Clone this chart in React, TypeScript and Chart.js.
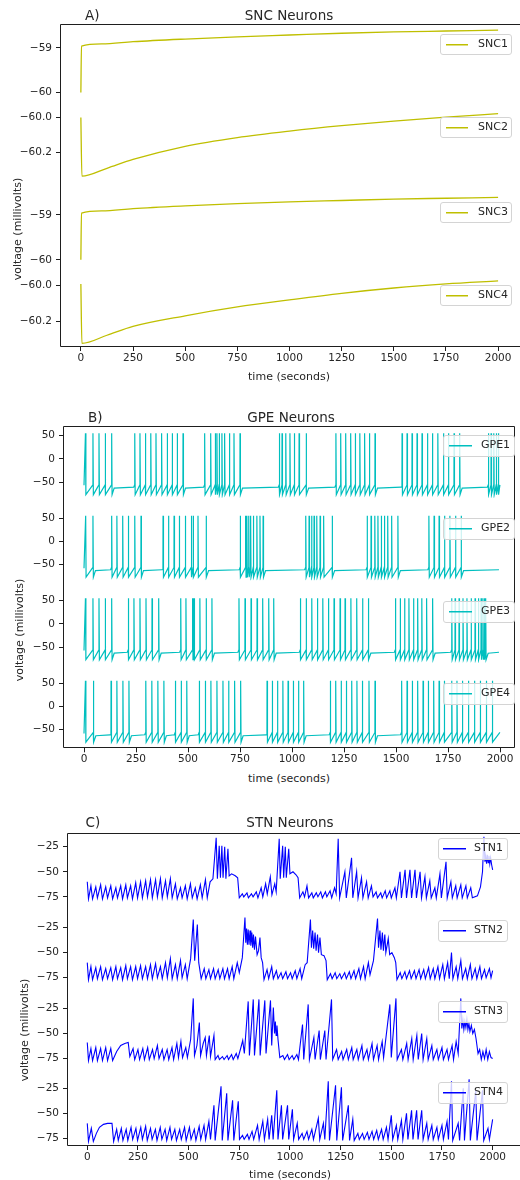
import React, { useEffect, useRef } from 'react';
import { Chart, registerables } from 'chart.js';

Chart.register(...registerables);

const FONT = '"DejaVu Sans", "Liberation Sans", Arial, sans-serif';
const TEXT = '#262626';
const FRAME = '#1e1e1e';

// ---------------- shared x axis ----------------
const X_TICKS = [0, 250, 500, 750, 1000, 1250, 1500, 1750, 2000];

// ---------------- Panel A : SNC ----------------
const SNC1_T = [0, 3, 100, 250, 500, 750, 1000, 1250, 1500, 1750, 2000];
const SNC1_V = [-60.0, -58.96, -58.91, -58.86, -58.8, -58.75, -58.71, -58.67, -58.64, -58.62, -58.6];
const SNC2_T = [0, 5, 125, 250, 500, 750, 1000, 1250, 1500, 1750, 2000];
const SNC2_V = [-60.0, -60.335, -60.29, -60.24, -60.165, -60.115, -60.078, -60.047, -60.021, -59.998, -59.979];
const SNC3_T = [0, 3, 100, 250, 500, 750, 1000, 1250, 1500, 1750, 2000];
const SNC3_V = [-60.0, -58.96, -58.91, -58.86, -58.8, -58.75, -58.71, -58.68, -58.65, -58.63, -58.61];
const SNC4_T = [0, 5, 125, 250, 500, 750, 1000, 1250, 1500, 1750, 2000];
const SNC4_V = [-59.99, -60.326, -60.28, -60.23, -60.17, -60.12, -60.08, -60.043, -60.013, -59.99, -59.973];
const SNC_TICKS_INT = [-60, -59];
const SNC_TICKS_DEC = [-60.2, -60.0];

// ---------------- Panel B : GPE (spike times) ----------------
const GPE1_SPIKES = [7, 43, 72, 102, 133, 244, 269, 295, 321, 346, 373, 400, 424, 448, 476, 580, 609, 631, 639, 650, 663, 676, 699, 721, 750, 939, 952, 970, 990, 1011, 1034, 1068, 1211, 1234, 1258, 1282, 1304, 1326, 1349, 1372, 1399, 1529, 1553, 1577, 1601, 1625, 1651, 1675, 1701, 1728, 1752, 1779, 1806, 1944, 1957, 1970, 1982, 1992];
const GPE2_SPIKES = [8, 43, 133, 158, 186, 213, 244, 274, 380, 406, 433, 458, 487, 516, 525, 548, 587, 751, 777, 783, 792, 801, 814, 831, 846, 861, 1066, 1082, 1094, 1106, 1119, 1135, 1152, 1193, 1361, 1380, 1398, 1413, 1429, 1444, 1460, 1479, 1509, 1658, 1683, 1707, 1733, 1759, 1786, 1813];
const GPE3_SPIKES = [7, 43, 72, 102, 133, 213, 240, 269, 298, 327, 359, 465, 490, 522, 526, 530, 557, 587, 615, 745, 774, 803, 832, 859, 888, 912, 1040, 1068, 1095, 1122, 1148, 1175, 1202, 1231, 1255, 1283, 1311, 1339, 1367, 1497, 1520, 1541, 1562, 1584, 1604, 1624, 1647, 1676, 1768, 1784, 1803, 1822, 1841, 1861, 1880, 1896, 1909, 1918, 1925, 1931];
const GPE4_SPIKES = [7, 45, 130, 158, 187, 216, 297, 326, 355, 384, 439, 467, 494, 554, 583, 610, 639, 668, 695, 724, 753, 880, 905, 930, 956, 981, 1006, 1031, 1056, 1184, 1210, 1236, 1261, 1287, 1312, 1338, 1370, 1399, 1527, 1553, 1578, 1604, 1630, 1655, 1681, 1707, 1732, 1768, 1793, 1819, 1848, 1877, 1905, 1934, 1963];
const GPE_START = [-57, -58, -57, -58];
const GPE_PEAK = 55;
const GPE_TROUGH = -77;
const GPE_THRESHOLD = -56;
const GPE_REST = -62;
const GPE_TICKS = [-50, 0, 50];

// ---------------- Panel C : STN (t, mV) ----------------
const STN1 = [[0,-60],[6,-77],[18,-64],[26,-77],[42,-65],[50,-76],[66,-63],[75,-77],[91,-65],[100,-76],[116,-64],[125,-77],[141,-66],[149,-76],[165,-64],[174,-77],[190,-63],[198,-76],[214,-64],[223,-77],[239,-61],[248,-76],[263,-60],[272,-76],[288,-59],[297,-75],[312,-58],[321,-76],[337,-58],[346,-75],[361,-57],[370,-76],[386,-59],[395,-75],[410,-57],[419,-76],[435,-62],[444,-77],[460,-66],[468,-76],[484,-64],[493,-77],[509,-62],[518,-76],[533,-66],[542,-77],[558,-63],[567,-76],[583,-58],[592,-76],[606,-60],[620,-57],[636,-16],[642,-57],[651,-24],[657,-56],[664,-24],[670,-56],[678,-25],[684,-57],[694,-27],[700,-54],[712,-52],[730,-54],[742,-56],[750,-76],[765,-72],[772,-75],[788,-71],[795,-76],[810,-72],[818,-75],[834,-70],[842,-76],[858,-66],[866,-75],[880,-62],[888,-72],[903,-55],[911,-73],[925,-62],[932,-70],[947,-17],[952,-57],[964,-24],[969,-56],[977,-25],[982,-56],[994,-27],[1000,-52],[1015,-50],[1030,-53],[1040,-56],[1048,-76],[1064,-70],[1072,-75],[1084,-64],[1092,-76],[1108,-71],[1115,-76],[1130,-71],[1138,-75],[1152,-70],[1160,-76],[1175,-70],[1182,-75],[1198,-69],[1206,-76],[1220,-66],[1228,-72],[1238,-17],[1245,-76],[1271,-50],[1278,-76],[1304,-36],[1310,-76],[1329,-50],[1336,-76],[1353,-56],[1360,-76],[1378,-60],[1386,-76],[1402,-64],[1410,-75],[1425,-70],[1432,-76],[1448,-71],[1455,-76],[1470,-69],[1477,-76],[1493,-69],[1500,-76],[1518,-66],[1525,-76],[1543,-50],[1550,-76],[1568,-48],[1575,-76],[1592,-48],[1600,-76],[1617,-48],[1624,-76],[1642,-50],[1649,-76],[1666,-55],[1673,-76],[1690,-59],[1697,-76],[1715,-66],[1722,-76],[1740,-52],[1747,-76],[1770,-40],[1776,-76],[1794,-60],[1801,-76],[1818,-64],[1825,-76],[1843,-63],[1850,-76],[1868,-64],[1875,-76],[1892,-66],[1900,-76],[1925,-74],[1940,-65],[1950,-50],[1957,-15],[1962,-40],[1966,-34],[1970,-42],[1974,-33],[1978,-41],[1982,-34],[1986,-42],[1990,-36],[1995,-43],[2000,-48]];
const STN2 = [[0,-60],[6,-77],[18,-64],[26,-77],[42,-65],[50,-76],[66,-64],[75,-77],[91,-66],[100,-76],[116,-65],[125,-77],[141,-64],[149,-76],[165,-65],[174,-77],[190,-63],[198,-76],[214,-64],[223,-77],[239,-64],[248,-76],[263,-63],[272,-76],[288,-64],[297,-76],[312,-62],[321,-76],[337,-61],[346,-75],[361,-64],[370,-76],[386,-60],[395,-75],[410,-56],[419,-76],[435,-62],[444,-76],[460,-58],[468,-75],[484,-62],[493,-76],[510,-56],[523,-17],[530,-58],[543,-22],[550,-60],[562,-76],[577,-66],[585,-76],[600,-67],[608,-76],[623,-66],[631,-76],[646,-67],[654,-76],[669,-66],[677,-76],[692,-66],[700,-76],[715,-64],[723,-76],[740,-60],[750,-70],[765,-55],[778,-15],[782,-40],[786,-26],[790,-42],[794,-27],[798,-42],[803,-28],[807,-43],[812,-30],[816,-45],[820,-32],[825,-47],[830,-34],[838,-52],[845,-48],[852,-35],[858,-55],[865,-60],[872,-77],[887,-67],[895,-76],[910,-64],[918,-76],[933,-68],[941,-76],[956,-70],[964,-76],[980,-69],[988,-76],[1003,-70],[1011,-76],[1026,-68],[1034,-76],[1050,-66],[1058,-76],[1075,-62],[1085,-60],[1101,-17],[1106,-45],[1112,-28],[1117,-46],[1124,-30],[1129,-48],[1136,-32],[1141,-50],[1148,-35],[1155,-52],[1168,-53],[1178,-58],[1184,-77],[1200,-71],[1208,-76],[1223,-70],[1231,-76],[1246,-71],[1254,-76],[1270,-70],[1278,-76],[1293,-69],[1301,-76],[1316,-68],[1324,-76],[1340,-66],[1348,-76],[1363,-64],[1371,-76],[1387,-60],[1395,-72],[1412,-58],[1432,-16],[1437,-45],[1444,-28],[1449,-47],[1456,-30],[1461,-48],[1468,-32],[1473,-50],[1485,-36],[1492,-52],[1503,-50],[1515,-55],[1522,-60],[1528,-77],[1544,-70],[1552,-76],[1567,-69],[1575,-76],[1590,-68],[1598,-76],[1614,-68],[1622,-76],[1637,-67],[1645,-76],[1660,-67],[1668,-76],[1684,-65],[1692,-76],[1707,-66],[1715,-76],[1730,-64],[1738,-76],[1754,-62],[1762,-76],[1778,-60],[1786,-76],[1797,-50],[1804,-76],[1820,-64],[1828,-76],[1843,-58],[1851,-76],[1867,-66],[1875,-76],[1890,-62],[1898,-76],[1914,-66],[1922,-76],[1937,-64],[1945,-76],[1960,-67],[1968,-75],[1984,-66],[1992,-75],[2000,-68]];
const STN3 = [[0,-59],[6,-77],[18,-65],[26,-77],[42,-64],[50,-77],[66,-65],[75,-77],[91,-64],[100,-77],[116,-65],[125,-77],[145,-68],[165,-62],[185,-60],[202,-59],[210,-73],[226,-65],[234,-76],[250,-66],[258,-76],[274,-65],[282,-76],[298,-64],[306,-76],[322,-66],[330,-75],[346,-62],[354,-75],[370,-66],[378,-76],[394,-66],[402,-76],[418,-64],[426,-76],[442,-60],[450,-74],[462,-58],[470,-74],[486,-64],[494,-74],[510,-56],[523,-15],[529,-72],[541,-62],[553,-39],[559,-72],[572,-60],[582,-54],[588,-72],[602,-52],[608,-73],[625,-52],[631,-76],[645,-72],[652,-76],[667,-73],[675,-76],[690,-72],[697,-76],[712,-71],[720,-76],[735,-70],[743,-75],[758,-64],[767,-57],[775,-70],[794,-18],[800,-72],[819,-16],[825,-72],[847,-16],[853,-72],[876,-17],[882,-70],[904,-17],[910,-62],[918,-24],[924,-50],[928,-38],[932,-52],[936,-42],[941,-56],[950,-74],[965,-72],[973,-76],[988,-71],[996,-76],[1011,-72],[1019,-76],[1034,-71],[1042,-76],[1062,-41],[1068,-76],[1090,-21],[1096,-76],[1118,-54],[1124,-76],[1144,-47],[1150,-76],[1172,-47],[1178,-76],[1205,-16],[1211,-76],[1230,-66],[1238,-76],[1255,-68],[1262,-76],[1280,-66],[1288,-76],[1305,-64],[1312,-76],[1330,-66],[1337,-76],[1355,-62],[1362,-76],[1380,-66],[1387,-76],[1405,-60],[1412,-76],[1430,-62],[1437,-76],[1455,-58],[1462,-74],[1493,-21],[1500,-74],[1523,-15],[1529,-76],[1550,-66],[1557,-76],[1576,-60],[1583,-76],[1601,-55],[1608,-76],[1626,-52],[1633,-76],[1650,-50],[1657,-76],[1675,-55],[1682,-76],[1700,-62],[1707,-76],[1725,-66],[1732,-76],[1750,-64],[1757,-76],[1775,-66],[1782,-76],[1800,-62],[1807,-76],[1820,-58],[1830,-70],[1843,-15],[1848,-45],[1853,-36],[1858,-46],[1863,-38],[1868,-44],[1873,-36],[1878,-46],[1883,-40],[1888,-48],[1895,-42],[1902,-50],[1910,-46],[1918,-55],[1928,-70],[1936,-66],[1944,-76],[1952,-68],[1960,-75],[1968,-66],[1976,-76],[1984,-68],[1992,-74],[2000,-75]];
const STN4 = [[0,-60],[6,-78],[20,-65],[30,-78],[45,-70],[60,-64],[80,-61],[100,-60],[122,-60],[130,-78],[145,-66],[153,-77],[168,-65],[176,-77],[192,-66],[200,-77],[216,-64],[224,-76],[240,-65],[248,-77],[264,-64],[272,-76],[288,-63],[296,-77],[312,-65],[320,-76],[336,-66],[344,-77],[360,-64],[368,-76],[384,-66],[392,-77],[408,-64],[416,-76],[432,-66],[440,-77],[456,-66],[464,-76],[480,-64],[488,-77],[504,-64],[512,-76],[528,-66],[536,-77],[552,-63],[560,-76],[576,-62],[584,-76],[600,-58],[608,-76],[625,-42],[631,-77],[660,-23],[666,-77],[688,-30],[694,-77],[717,-37],[723,-77],[745,-38],[751,-76],[766,-72],[774,-76],[790,-71],[798,-76],[813,-68],[821,-76],[840,-62],[848,-76],[866,-58],[874,-76],[890,-56],[897,-76],[910,-52],[917,-76],[935,-27],[941,-76],[958,-42],[964,-76],[988,-42],[994,-76],[1012,-46],[1018,-76],[1036,-60],[1043,-76],[1060,-70],[1068,-76],[1084,-68],[1092,-76],[1108,-66],[1116,-76],[1140,-55],[1147,-76],[1165,-60],[1172,-76],[1189,-18],[1195,-77],[1225,-22],[1231,-77],[1254,-24],[1260,-77],[1288,-42],[1294,-77],[1310,-56],[1317,-77],[1335,-70],[1342,-76],[1358,-70],[1366,-76],[1382,-69],[1390,-76],[1405,-68],[1413,-76],[1428,-67],[1436,-76],[1452,-66],[1460,-76],[1476,-64],[1484,-76],[1500,-52],[1507,-76],[1525,-62],[1532,-76],[1550,-57],[1557,-76],[1575,-50],[1582,-76],[1600,-47],[1607,-76],[1625,-47],[1632,-76],[1650,-47],[1657,-76],[1675,-60],[1682,-76],[1700,-62],[1707,-76],[1725,-64],[1732,-76],[1750,-62],[1757,-76],[1775,-58],[1782,-76],[1797,-18],[1803,-77],[1830,-60],[1837,-77],[1855,-25],[1861,-77],[1884,-16],[1890,-77],[1917,-27],[1923,-77],[1950,-27],[1956,-77],[1977,-65],[1984,-76],[2000,-56]];
const STN_TICKS = [-75, -50, -25];

// ---------------- helpers ----------------
type Pt = { x: number; y: number };
const zip = (t: number[], v: number[]): Pt[] => t.map((x, i) => ({ x, y: v[i] }));
const pairs = (a: number[][]): Pt[] => a.map(([x, y]) => ({ x, y }));

// GPE trace table built from the spike times
function gpeTrace(spikes: number[], start: number): Pt[] {
  const pts: Pt[] = [{ x: 0, y: start }];
  spikes.forEach((s, i) => {
    const next = i + 1 < spikes.length ? spikes[i + 1] : 2000;
    pts.push({ x: s, y: GPE_PEAK });
    pts.push({ x: s + 2, y: GPE_TROUGH });
    if (next - s < 45) {
      pts.push({ x: next - 0.5, y: GPE_THRESHOLD });
    } else {
      pts.push({ x: s + 12, y: GPE_REST - 1 });
      pts.push({ x: Math.min(next - 5, 2000), y: GPE_REST + 1 });
      if (next < 2000) pts.push({ x: next - 0.5, y: GPE_THRESHOLD });
    }
  });
  return pts;
}

// matplotlib-like autoscale: data range + 5% margins
function autoRange(points: Pt[]) {
  let lo = Infinity;
  let hi = -Infinity;
  points.forEach((p) => {
    if (p.y < lo) lo = p.y;
    if (p.y > hi) hi = p.y;
  });
  const m = (hi - lo) * 0.05;
  return { min: lo - m, max: hi + m };
}

function fmtTick(v: number, decimals: number) {
  const s = Math.abs(v).toFixed(decimals);
  return v < 0 ? '\u2212' + s : s;
}

type Sub = { name: string; points: Pt[]; ticks: number[]; decimals: number; smooth?: boolean };
type PanelCfg = {
  id: string;
  top: number;
  height: number;
  left: number;
  right: number;
  areaTop: number;
  areaBottom: number;
  xMin: number;
  xMax: number;
  rightBorder: boolean;
  color: string;
  lineWidth: number;
  weights: number[];
  subs: Sub[];
  legend: { left: number; width: number; height: number; tops: number[]; lineLeft: number; lineWidth: number; textLeft: number };
  text: { tag: string; tagLeft: number; title: string; titleX: number; titleY: number; yLabelX: number; yLabelY: number; xLabelX: number; xLabelY: number };
};

const X_AXIS_H = 20;

const PANELS: PanelCfg[] = [
  {
    id: 'A', top: 0, height: 370, left: 60, right: 520, areaTop: 24, areaBottom: 347,
    xMin: -100, xMax: 2105, rightBorder: false, color: '#bfbf00', lineWidth: 1.3,
    weights: [3, 69, 15, 69, 15, 69, 15, 69, 0.5],
    subs: [
      { name: 'SNC1', points: zip(SNC1_T, SNC1_V), ticks: SNC_TICKS_INT, decimals: 0, smooth: true },
      { name: 'SNC2', points: zip(SNC2_T, SNC2_V), ticks: SNC_TICKS_DEC, decimals: 1, smooth: true },
      { name: 'SNC3', points: zip(SNC3_T, SNC3_V), ticks: SNC_TICKS_INT, decimals: 0, smooth: true },
      { name: 'SNC4', points: zip(SNC4_T, SNC4_V), ticks: SNC_TICKS_DEC, decimals: 1, smooth: true },
    ],
    legend: { left: 440, width: 72, height: 21, tops: [34, 117, 202, 285], lineLeft: 5, lineWidth: 22, textLeft: 37 },
    text: { tag: 'A)', tagLeft: 85, title: 'SNC Neurons', titleX: 289, titleY: 16, yLabelX: 17.5, yLabelY: 229, xLabelX: 289, xLabelY: 377 },
  },
  {
    id: 'B', top: 395, height: 375, left: 63, right: 515, areaTop: 425.7, areaBottom: 748.3,
    xMin: -101, xMax: 2072, rightBorder: true, color: '#00bfbf', lineWidth: 1.2,
    weights: [4.5, 67.5, 15, 67.5, 15, 67.5, 15, 67.5, 3],
    subs: [
      { name: 'GPE1', points: gpeTrace(GPE1_SPIKES, GPE_START[0]), ticks: GPE_TICKS, decimals: 0 },
      { name: 'GPE2', points: gpeTrace(GPE2_SPIKES, GPE_START[1]), ticks: GPE_TICKS, decimals: 0 },
      { name: 'GPE3', points: gpeTrace(GPE3_SPIKES, GPE_START[2]), ticks: GPE_TICKS, decimals: 0 },
      { name: 'GPE4', points: gpeTrace(GPE4_SPIKES, GPE_START[3]), ticks: GPE_TICKS, decimals: 0 },
    ],
    legend: { left: 443, width: 72, height: 22, tops: [435, 518, 601, 683], lineLeft: 5, lineWidth: 23, textLeft: 37 },
    text: { tag: 'B)', tagLeft: 88, title: 'GPE Neurons', titleX: 291, titleY: 417.5, yLabelX: 19.5, yLabelY: 630, xLabelX: 289, xLabelY: 779 },
  },
  {
    id: 'C', top: 800, height: 372, left: 67, right: 520, areaTop: 833.3, areaBottom: 1146,
    xMin: -100, xMax: 2135, rightBorder: false, color: '#0000ff', lineWidth: 1.1,
    weights: [0.3, 68.5, 12.5, 68.5, 12.5, 68.5, 12.5, 68.5, 1.5],
    subs: [
      { name: 'STN1', points: pairs(STN1), ticks: STN_TICKS, decimals: 0 },
      { name: 'STN2', points: pairs(STN2), ticks: STN_TICKS, decimals: 0 },
      { name: 'STN3', points: pairs(STN3), ticks: STN_TICKS, decimals: 0 },
      { name: 'STN4', points: pairs(STN4), ticks: STN_TICKS, decimals: 0 },
    ],
    legend: { left: 438, width: 70, height: 22, tops: [838, 920, 1001, 1082], lineLeft: 4, lineWidth: 23, textLeft: 35 },
    text: { tag: 'C)', tagLeft: 85.5, title: 'STN Neurons', titleX: 290, titleY: 822.5, yLabelX: 25, yLabelY: 1030, xLabelX: 290, xLabelY: 1175 },
  },
];

const framePlugin = {
  id: 'frame',
  afterDraw(chart: any, _args: any, opts: any) {
    const { ctx, chartArea } = chart;
    const l = Math.round(chartArea.left) + 0.5;
    const r = Math.round(chartArea.right) - 0.5;
    const t = Math.round(chartArea.top) + 0.5;
    const b = Math.round(chartArea.bottom) - 0.5;
    ctx.save();
    ctx.strokeStyle = FRAME;
    ctx.lineWidth = 1;
    ctx.beginPath();
    if (opts && opts.right) {
      ctx.moveTo(l, t);
      ctx.lineTo(r, t);
      ctx.lineTo(r, b);
      ctx.lineTo(l, b);
      ctx.closePath();
    } else {
      ctx.moveTo(r + 2, t);
      ctx.lineTo(l, t);
      ctx.lineTo(l, b);
      ctx.lineTo(r + 2, b);
    }
    ctx.stroke();
    ctx.restore();
  },
};

function buildChart(canvas: HTMLCanvasElement, cfg: PanelCfg) {
  const scales: any = {
    x: {
      type: 'linear',
      position: 'bottom',
      min: cfg.xMin,
      max: cfg.xMax,
      bounds: 'data',
      afterBuildTicks: (ax: any) => { ax.ticks = X_TICKS.map((v) => ({ value: v })); },
      afterFit: (ax: any) => { ax.height = X_AXIS_H; },
      ticks: { autoSkip: false, maxRotation: 0, padding: 1, color: TEXT, font: { family: FONT, size: 10.5 }, callback: (v: any) => String(v) },
      grid: { display: true, drawOnChartArea: false, drawTicks: true, tickLength: 4, color: FRAME, lineWidth: 1 },
      border: { display: false },
    },
  };
  const n = cfg.weights.length;
  cfg.weights.forEach((w, i) => {
    const base: any = {
      type: 'linear',
      position: 'left',
      stack: 'v',
      stackWeight: w,
      weight: n - i,
      bounds: 'data',
      afterFit: (ax: any) => { ax.width = cfg.left; },
      border: { display: false },
    };
    if (i % 2 === 1) {
      const si = (i - 1) / 2;
      const sub = cfg.subs[si];
      const r = autoRange(sub.points);
      scales['y' + si] = {
        ...base,
        min: r.min,
        max: r.max,
        afterBuildTicks: (ax: any) => { ax.ticks = sub.ticks.map((v) => ({ value: v })); },
        ticks: { autoSkip: false, padding: 4, color: TEXT, font: { family: FONT, size: 10.5 }, callback: (v: any) => fmtTick(Number(v), sub.decimals) },
        grid: { display: true, drawOnChartArea: false, drawTicks: true, tickLength: 4, color: FRAME, lineWidth: 1 },
      };
    } else {
      scales['s' + i] = { ...base, min: 0, max: 1, ticks: { display: false }, grid: { display: false } };
    }
  });

  const datasets = cfg.subs.map((s, i) => ({
    label: s.name,
    data: s.points,
    xAxisID: 'x',
    yAxisID: 'y' + i,
    borderColor: cfg.color,
    backgroundColor: cfg.color,
    borderWidth: cfg.lineWidth,
    pointRadius: 0,
    fill: false,
    tension: 0,
    cubicInterpolationMode: s.smooth ? 'monotone' : 'default',
  }));

  return new Chart(canvas, {
    type: 'line',
    data: { datasets } as any,
    plugins: [framePlugin],
    options: {
      responsive: false,
      animation: false,
      events: [],
      parsing: false,
      normalized: true,
      layout: {
        padding: {
          left: 0,
          right: 520 - cfg.right,
          top: cfg.areaTop - cfg.top,
          bottom: cfg.top + cfg.height - cfg.areaBottom - X_AXIS_H,
        },
      },
      scales,
      plugins: {
        legend: { display: false },
        tooltip: { enabled: false },
        frame: { right: cfg.rightBorder },
      } as any,
    } as any,
  });
}

function PanelCanvas({ cfg }: { cfg: PanelCfg }) {
  const ref = useRef<HTMLCanvasElement | null>(null);
  useEffect(() => {
    if (!ref.current) return;
    const chart = buildChart(ref.current, cfg);
    return () => chart.destroy();
  }, [cfg]);
  return (
    <canvas
      ref={ref}
      width={520}
      height={cfg.height}
      style={{ position: 'absolute', left: 0, top: cfg.top, width: 520, height: cfg.height }}
    />
  );
}

const textBase: React.CSSProperties = {
  position: 'absolute',
  fontFamily: FONT,
  color: TEXT,
  whiteSpace: 'nowrap',
  lineHeight: 1.15,
};

function PanelText({ cfg }: { cfg: PanelCfg }) {
  const t = cfg.text;
  const lg = cfg.legend;
  const lineTop = Math.round(lg.height / 2) - 2;
  return (
    <>
      <div style={{ ...textBase, left: t.tagLeft, top: t.titleY, fontSize: 13.5, transform: 'translateY(-50%)' }}>{t.tag}</div>
      <div style={{ ...textBase, left: t.titleX, top: t.titleY, fontSize: 13.5, transform: 'translate(-50%, -50%)' }}>{t.title}</div>
      <div style={{ ...textBase, left: t.yLabelX, top: t.yLabelY, fontSize: 11, transform: 'translate(-50%, -50%) rotate(-90deg)' }}>voltage (millivolts)</div>
      <div style={{ ...textBase, left: t.xLabelX, top: t.xLabelY, fontSize: 11, transform: 'translate(-50%, -50%)' }}>time (seconds)</div>
      {cfg.subs.map((s, i) => (
        <div
          key={s.name}
          style={{
            position: 'absolute',
            left: lg.left,
            top: lg.tops[i],
            width: lg.width,
            height: lg.height,
            boxSizing: 'border-box',
            border: '1px solid #d4d4d4',
            borderRadius: 3,
            background: 'rgba(255,255,255,0.8)',
          }}
        >
          <div style={{ position: 'absolute', left: lg.lineLeft, top: lineTop, width: lg.lineWidth, height: 1, background: cfg.color, boxShadow: `0 0.5px 0 ${cfg.color}` }} />
          <div style={{ ...textBase, left: lg.textLeft, top: lineTop, fontSize: 11, transform: 'translateY(-50%)' }}>{s.name}</div>
        </div>
      ))}
    </>
  );
}

export default function App() {
  return (
    <div style={{ position: 'absolute', left: 0, top: 0, width: 520, height: 1180, overflow: 'hidden', background: '#fff' }}>
      {PANELS.map((p) => (
        <PanelCanvas key={p.id} cfg={p} />
      ))}
      {PANELS.map((p) => (
        <PanelText key={'t' + p.id} cfg={p} />
      ))}
    </div>
  );
}
